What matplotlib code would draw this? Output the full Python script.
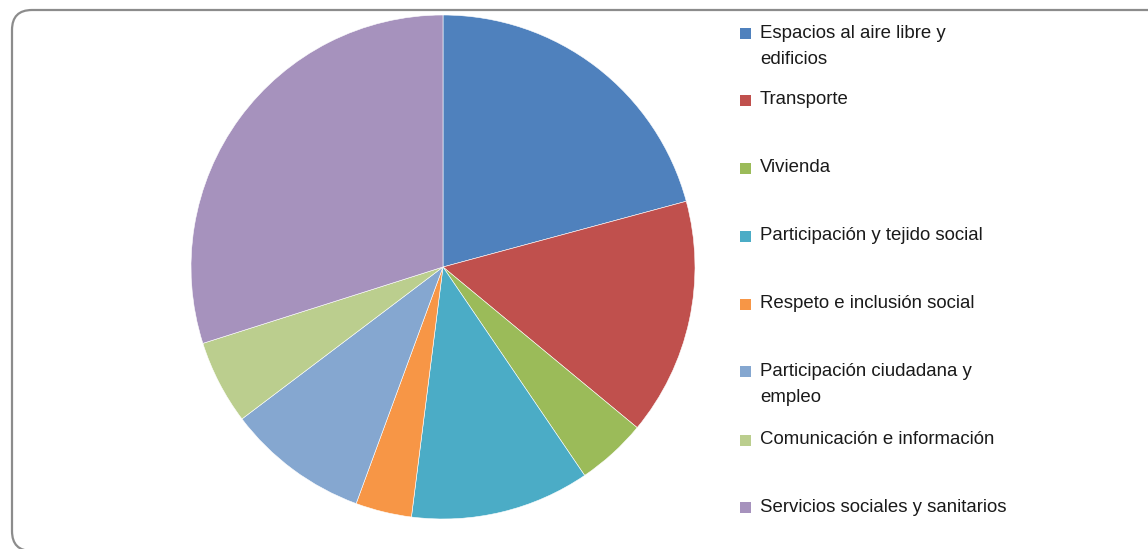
import matplotlib.pyplot as plt
from matplotlib.patches import FancyBboxPatch, Rectangle

labels = ['Espacios al aire libre y\nedificios', 'Transporte', 'Vivienda',
          'Participación y tejido social', 'Respeto e inclusión social',
          'Participación ciudadana y\nempleo', 'Comunicación e información',
          'Servicios sociales y sanitarios']
values = [20.8, 15.2, 4.5, 11.5, 3.6, 9.1, 5.4, 29.9]
colors = ['#4F81BD', '#C0504D', '#9BBB59', '#4BACC6', '#F79646',
          '#85A7D0', '#BBCE8E', '#A692BD']

W, H = 1148, 549
fig = plt.figure(figsize=(W / 100, H / 100), dpi=100)

# background axes in pixel coordinates (frame + legend)
bg = fig.add_axes([0, 0, 1, 1], zorder=-1)
bg.set_xlim(0, W)
bg.set_ylim(H, 0)
bg.axis('off')
bg.add_patch(FancyBboxPatch((12, 10), 1160, 541,
                            boxstyle='round,pad=0,rounding_size=20',
                            facecolor='white', edgecolor='#8C8C8C', linewidth=1.6))

cx, cy, r = 443, 267, 252
ax = fig.add_axes([(cx - r) / W, (H - cy - r) / H, 2 * r / W, 2 * r / H])
ax.pie(values, colors=colors, startangle=90, counterclock=False, radius=1,
       wedgeprops=dict(edgecolor='white', linewidth=0.4))
ax.set_xlim(-1, 1)
ax.set_ylim(-1, 1)
ax.set_aspect('equal')
ax.axis('off')

# legend drawn by hand
marker_y = [33, 100, 168, 236, 304, 371, 440, 507]
for lab, col, y in zip(labels, colors, marker_y):
    bg.add_patch(Rectangle((740, y - 5.5), 11, 11, facecolor=col, edgecolor='none'))
    for k, line in enumerate(lab.split('\n')):
        bg.text(760, y + 26 * k, line, ha='left', va='center',
                fontsize=13.4, family='Liberation Sans', color='#1A1A1A')

fig.savefig('out.png', dpi=100)
